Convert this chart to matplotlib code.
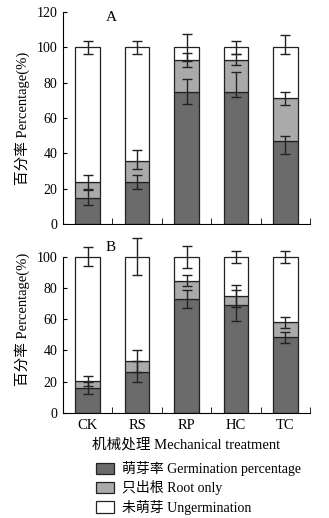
import matplotlib
matplotlib.use("Agg")
import matplotlib.pyplot as plt
from matplotlib.patches import Patch

plt.rcParams['font.family'] = ['Liberation Serif', 'Noto Sans CJK SC']

treatments = ['CK', 'RS', 'RP', 'HC', 'TC']

# panel A (percent)
a_germ = [15, 24, 75, 75, 47]
a_root = [9, 11.5, 18, 18, 24.5]
a_germ_err = [(4, 4), (4, 4), (7, 7), (3, 11), (7.5, 3)]
a_root_err = [(4, 4), (4.5, 6.5), (4, 4), (3, 3), (4, 3.5)]
a_top_err = [(3.5, 3.5), (3.5, 3.5), (7.5, 7.5), (3.5, 3.5), (3.5, 7)]

# panel B (percent)
b_germ = [16, 26.5, 73, 69, 48.5]
b_root = [4.5, 6.5, 11.5, 6, 9.5]
b_germ_err = [(4, 4), (6.5, 6.5), (6, 6), (10, 10), (3.5, 3.5)]
b_root_err = [(3, 3), (7, 7), (3.5, 3.5), (7, 7), (3.5, 3.5)]
b_top_err = [(6, 6), (12, 12), (7, 7), (3.7, 3.7), (3.7, 3.7)]

c_germ = '#6b6b6b'
c_root = '#aaaaaa'
c_ung = 'white'


def draw_panel(ax, germ, root, germ_err, root_err, top_err, label, label_y, yticks):
    x = list(range(len(treatments)))
    root_top = [g + r for g, r in zip(germ, root)]
    ung = [100 - t for t in root_top]
    kw = dict(width=0.5, edgecolor='#222222', linewidth=0.9)
    ax.bar(x, germ, color=c_germ, **kw)
    ax.bar(x, root, bottom=germ, color=c_root, **kw)
    ax.bar(x, ung, bottom=root_top, color=c_ung, **kw)
    for tops, errs in ((germ, germ_err), (root_top, root_err), ([100] * 5, top_err)):
        lo = [e[0] for e in errs]
        hi = [e[1] for e in errs]
        ax.errorbar(x, tops, yerr=[lo, hi], fmt='none', ecolor='#222222',
                    elinewidth=1, capsize=3.6, capthick=1, clip_on=False)
    ax.set_xlim(-0.5, 4.5)
    ax.set_ylim(0, 120)
    ax.set_yticks(yticks)
    ax.spines['top'].set_visible(False)
    ax.spines['right'].set_visible(False)
    ax.spines['left'].set_bounds(0, yticks[-1])
    ax.tick_params(axis='y', direction='in', length=3, labelsize=10, pad=4)
    ax.set_xticks(x)
    ax.set_xticks([0.5, 1.5, 2.5, 3.5, 4.5], minor=True)
    ax.tick_params(axis='x', which='major', length=0, labelsize=10.5, pad=4)
    ax.tick_params(axis='x', which='minor', direction='in', length=4)
    ax.set_ylabel('百分率 Percentage(%)', fontsize=10.5, labelpad=5)
    ax.text(0.47, label_y, label, fontsize=11, ha='center', va='center')


fig = plt.figure(figsize=(3.29, 5.18), dpi=100)
ax_a = fig.add_axes([0.1915, 0.5676, 0.751, 0.409])
ax_b = fig.add_axes([0.1915, 0.2027, 0.751, 0.362])

draw_panel(ax_a, a_germ, a_root, a_germ_err, a_root_err, a_top_err, 'A', 117,
           [0, 20, 40, 60, 80, 100, 120])
ax_a.set_xticklabels([])
draw_panel(ax_b, b_germ, b_root, b_germ_err, b_root_err, b_top_err, 'B', 106,
           [0, 20, 40, 60, 80, 100])
ax_b.set_xticklabels(treatments)
ax_b.set_xlabel('机械处理 Mechanical treatment', fontsize=10.5, labelpad=5)

handles = [Patch(facecolor=c_germ, edgecolor='#222222', linewidth=0.9),
           Patch(facecolor=c_root, edgecolor='#222222', linewidth=0.9),
           Patch(facecolor=c_ung, edgecolor='#222222', linewidth=0.9)]
labels = ['萌芽率 Germination percentage', '只出根 Root only', '未萌芽 Ungermination']
fig.legend(handles, labels, loc='center left', bbox_to_anchor=(0.27, 0.058),
           frameon=False, fontsize=10, handlelength=1.3, handleheight=0.9,
           handletextpad=0.6, labelspacing=0.3, borderpad=0)

fig.savefig('out.png', dpi=100)
